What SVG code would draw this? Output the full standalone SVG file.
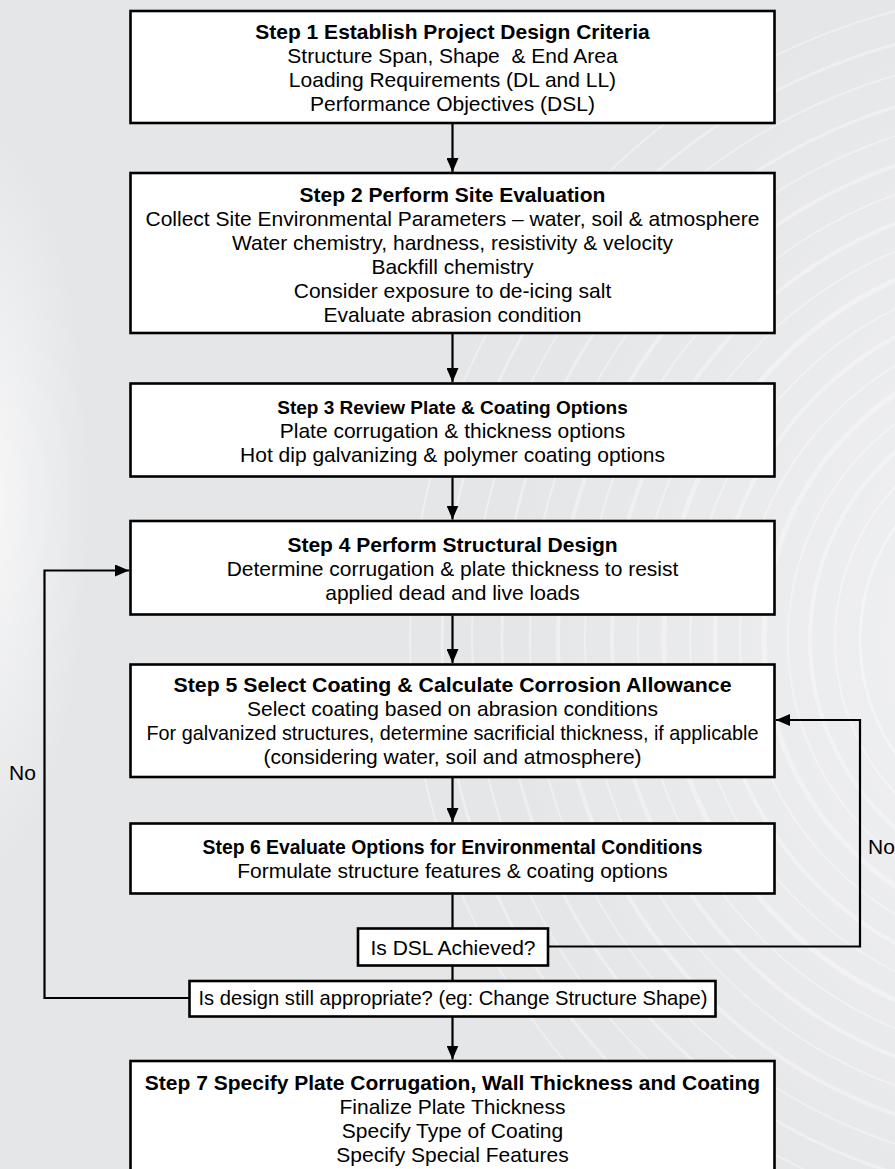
<svg xmlns="http://www.w3.org/2000/svg" width="895" height="1169" viewBox="0 0 895 1169">
<style>
.box{fill:#fff;stroke:#000;stroke-width:2.6}
.t{font-family:"Liberation Sans",Arial,sans-serif;font-size:21px;fill:#000;text-anchor:middle}
.b{font-weight:bold}
.con{fill:none;stroke:#000;stroke-width:2.2}
.ring{fill:none;stroke:#fff}
</style>
<defs>
<marker id="ah" viewBox="0 0 14 12" markerWidth="14" markerHeight="12" refX="14" refY="6" orient="auto" markerUnits="userSpaceOnUse">
<path d="M0,0 L14,6 L0,12 z" fill="#000"/>
</marker>
<radialGradient id="glowL" cx="0.5" cy="0.5" r="0.5">
<stop offset="0" stop-color="#fff" stop-opacity="0.75"/>
<stop offset="1" stop-color="#fff" stop-opacity="0"/>
</radialGradient>
<radialGradient id="glowR" cx="0.5" cy="0.5" r="0.5">
<stop offset="0" stop-color="#fff" stop-opacity="0.5"/>
<stop offset="1" stop-color="#fff" stop-opacity="0"/>
</radialGradient>
</defs>
<g id="background">
<rect width="895" height="1169" fill="#e5e6e8"/>
<ellipse cx="-20" cy="500" rx="110" ry="380" fill="url(#glowL)"/>
<ellipse cx="1060" cy="640" rx="560" ry="700" fill="url(#glowR)"/>
<g class="ring" stroke-opacity="0.35">
<circle cx="1060" cy="640" r="200" stroke-width="3"/>
<circle cx="1060" cy="640" r="225" stroke-width="2"/>
<circle cx="1060" cy="640" r="250" stroke-width="4"/>
<circle cx="1060" cy="640" r="272" stroke-width="2"/>
<circle cx="1060" cy="640" r="296" stroke-width="5"/>
<circle cx="1060" cy="640" r="320" stroke-width="2"/>
<circle cx="1060" cy="640" r="345" stroke-width="4"/>
<circle cx="1060" cy="640" r="370" stroke-width="2"/>
<circle cx="1060" cy="640" r="396" stroke-width="5"/>
<circle cx="1060" cy="640" r="422" stroke-width="2"/>
<circle cx="1060" cy="640" r="448" stroke-width="4"/>
<circle cx="1060" cy="640" r="475" stroke-width="2"/>
<circle cx="1060" cy="640" r="502" stroke-width="4"/>
<circle cx="1060" cy="640" r="530" stroke-width="2"/>
<circle cx="1060" cy="640" r="558" stroke-width="3"/>
<circle cx="1060" cy="640" r="588" stroke-width="2"/>
<circle cx="1060" cy="640" r="618" stroke-width="3"/>
<circle cx="1060" cy="640" r="650" stroke-width="2"/>
</g>
</g>
<g id="connectors">
<path class="con" d="M452.5,123.5 V172" marker-end="url(#ah)"/>
<path class="con" d="M452.5,334 V382" marker-end="url(#ah)"/>
<path class="con" d="M452.5,477.5 V519.5" marker-end="url(#ah)"/>
<path class="con" d="M452.5,615.5 V663" marker-end="url(#ah)"/>
<path class="con" d="M452.5,778 V822" marker-end="url(#ah)"/>
<path class="con" d="M452.5,894.5 V928"/>
<path class="con" d="M452.5,966 V981"/>
<path class="con" d="M452.5,1017 V1059.5" marker-end="url(#ah)"/>
<path class="con" d="M189.5,998 H44.5 V570.5 H129" marker-end="url(#ah)"/>
<path class="con" d="M548,946.5 H860 V720 H776" marker-end="url(#ah)"/>
</g>
<g id="step1">
<rect class="box" x="130.5" y="11" width="644" height="112"/>
<text class="t b" x="452.5" y="39">Step 1 Establish Project Design Criteria</text>
<text class="t" x="452.5" y="63" xml:space="preserve">Structure Span, Shape  &amp; End Area</text>
<text class="t" x="452.5" y="87">Loading Requirements (DL and LL)</text>
<text class="t" x="452.5" y="111">Performance Objectives (DSL)</text>
</g>
<g id="step2">
<rect class="box" x="130.5" y="173" width="644" height="160"/>
<text class="t b" x="452.5" y="202">Step 2 Perform Site Evaluation</text>
<text class="t" x="452.5" y="226">Collect Site Environmental Parameters – water, soil &amp; atmosphere</text>
<text class="t" x="452.5" y="250">Water chemistry, hardness, resistivity &amp; velocity</text>
<text class="t" x="452.5" y="274">Backfill chemistry</text>
<text class="t" x="452.5" y="298">Consider exposure to de-icing salt</text>
<text class="t" x="452.5" y="322">Evaluate abrasion condition</text>
</g>
<g id="step3">
<rect class="box" x="130.5" y="383.5" width="644" height="93"/>
<text class="t b" x="452.5" y="414" style="font-size:19px">Step 3 Review Plate &amp; Coating Options</text>
<text class="t" x="452.5" y="438">Plate corrugation &amp; thickness options</text>
<text class="t" x="452.5" y="462">Hot dip galvanizing &amp; polymer coating options</text>
</g>
<g id="step4">
<rect class="box" x="130.5" y="521" width="644" height="93.5"/>
<text class="t b" x="452.5" y="552">Step 4 Perform Structural Design</text>
<text class="t" x="452.5" y="576">Determine corrugation &amp; plate thickness to resist</text>
<text class="t" x="452.5" y="600">applied dead and live loads</text>
</g>
<g id="step5">
<rect class="box" x="130.5" y="664.5" width="644" height="112.5"/>
<text class="t b" x="452.5" y="692" textLength="558" lengthAdjust="spacingAndGlyphs">Step 5 Select Coating &amp; Calculate Corrosion Allowance</text>
<text class="t" x="452.5" y="716">Select coating based on abrasion conditions</text>
<text class="t" x="452.5" y="740" textLength="612" lengthAdjust="spacingAndGlyphs">For galvanized structures, determine sacrificial thickness, if applicable</text>
<text class="t" x="452.5" y="764">(considering water, soil and atmosphere)</text>
</g>
<g id="step6">
<rect class="box" x="130.5" y="823.5" width="644" height="70"/>
<text class="t b" x="452.5" y="854" textLength="500" lengthAdjust="spacingAndGlyphs">Step 6 Evaluate Options for Environmental Conditions</text>
<text class="t" x="452.5" y="878">Formulate structure features &amp; coating options</text>
</g>
<g id="dsl">
<rect class="box" x="358" y="928.5" width="190" height="37"/>
<text class="t" x="453" y="955">Is DSL Achieved?</text>
</g>
<g id="design">
<rect class="box" x="189.5" y="981" width="526" height="35.5"/>
<text class="t" x="453" y="1005" textLength="509" lengthAdjust="spacingAndGlyphs">Is design still appropriate? (eg: Change Structure Shape)</text>
</g>
<g id="step7">
<rect class="box" x="130.5" y="1061" width="644" height="120"/>
<text class="t b" x="452.5" y="1090">Step 7 Specify Plate Corrugation, Wall Thickness and Coating</text>
<text class="t" x="452.5" y="1114">Finalize Plate Thickness</text>
<text class="t" x="452.5" y="1138">Specify Type of Coating</text>
<text class="t" x="452.5" y="1162">Specify Special Features</text>
</g>
<g id="labels">
<text class="t" x="22.5" y="780">No</text>
<text class="t" x="868" y="854" style="text-anchor:start">No</text>
</g>
</svg>
